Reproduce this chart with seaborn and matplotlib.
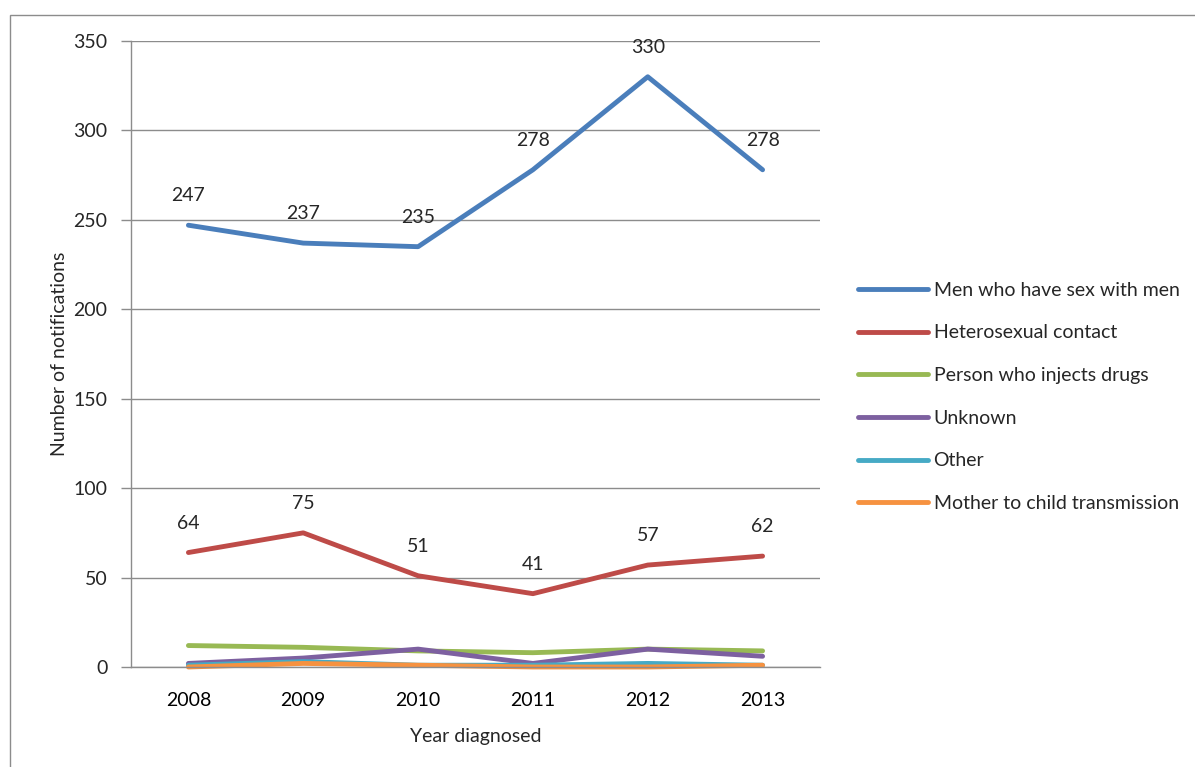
import matplotlib
matplotlib.use("Agg")
import matplotlib.pyplot as plt
import seaborn as sns
import pandas as pd
from matplotlib.patches import Rectangle

years = ["2008", "2009", "2010", "2011", "2012", "2013"]
series_names = ["Men who have sex with men", "Heterosexual contact", "Person who injects drugs",
                "Unknown", "Other", "Mother to child transmission"]
msm = [247, 237, 235, 278, 330, 278]
hetero = [64, 75, 51, 41, 57, 62]
pwid = [12, 11, 9, 8, 10, 9]
unknown = [2, 5, 10, 2, 10, 6]
other = [1, 3, 1, 1, 2, 1]
mtct = [0, 2, 1, 0, 0, 1]
colors = ["#4A7EBB", "#BE4B48", "#98B954", "#7D60A0", "#46AAC5", "#F69240"]

all_vals = [msm, hetero, pwid, unknown, other, mtct]
rows = []
for name, vals in zip(series_names, all_vals):
    for i, v in enumerate(vals):
        rows.append({"x": i, "year": years[i], "value": v, "series": name})
df = pd.DataFrame(rows)

sns.set_theme(style="white")
plt.rcParams["font.family"] = ["Lato", "DejaVu Sans"]

fig = plt.figure(figsize=(11.95, 7.67), dpi=100)
ax = fig.add_axes([131/1195, 1-667/767, (820-131)/1195, (667-41)/767])

sns.lineplot(data=df, x="x", y="value", hue="series", hue_order=series_names,
             palette=colors, linewidth=3.5, ax=ax, legend=False, sort=False)
for ln in ax.lines:
    ln.set_clip_on(False)

ax.set_xlim(-0.5, 5.5)
ax.set_ylim(0, 350)
ax.set_yticks(range(0, 351, 50))
ax.set_xticks(range(6))
ax.set_xticklabels(years)
ax.set_xticks([i - 0.5 for i in range(7)], minor=True)
ax.tick_params(axis="x", which="major", length=0, labelsize=14, pad=18, colors="#000000")
ax.tick_params(axis="x", which="minor", length=7, width=1, color="#8C8C8C", direction="out")
ax.tick_params(axis="y", which="major", length=7, width=1, color="#8C8C8C", direction="out",
               labelsize=14, pad=10, left=True)
ax.yaxis.grid(True, color="#8C8C8C", linewidth=1)
ax.set_axisbelow(True)
for s in ["top", "right"]:
    ax.spines[s].set_visible(False)
for s in ["left", "bottom"]:
    ax.spines[s].set_color("#8C8C8C")
    ax.spines[s].set_linewidth(1)

ax.set_xlabel("Year diagnosed", fontsize=14, labelpad=14)
ax.set_ylabel("Number of notifications", fontsize=14, labelpad=4)

for vals in [msm, hetero]:
    for i, v in enumerate(vals):
        ax.annotate(str(v), (i, v), xytext=(0, 15), textcoords="offset points",
                    ha="center", va="bottom", fontsize=14)

handles = [plt.Line2D([0], [0], color=c, linewidth=3.5) for c in colors]
fig.legend(handles, series_names, loc="upper left", bbox_to_anchor=(850/1195, 1-274/767),
           frameon=False, fontsize=14, handlelength=3.6, handletextpad=0.3, labelspacing=1.32,
           borderaxespad=0)

fig.patches.append(Rectangle((10/1195, -0.1), 1.2, 1-15/767+0.1, transform=fig.transFigure,
                             fill=False, edgecolor="#8C8C8C", linewidth=1))

fig.savefig("out.png", dpi=100)
